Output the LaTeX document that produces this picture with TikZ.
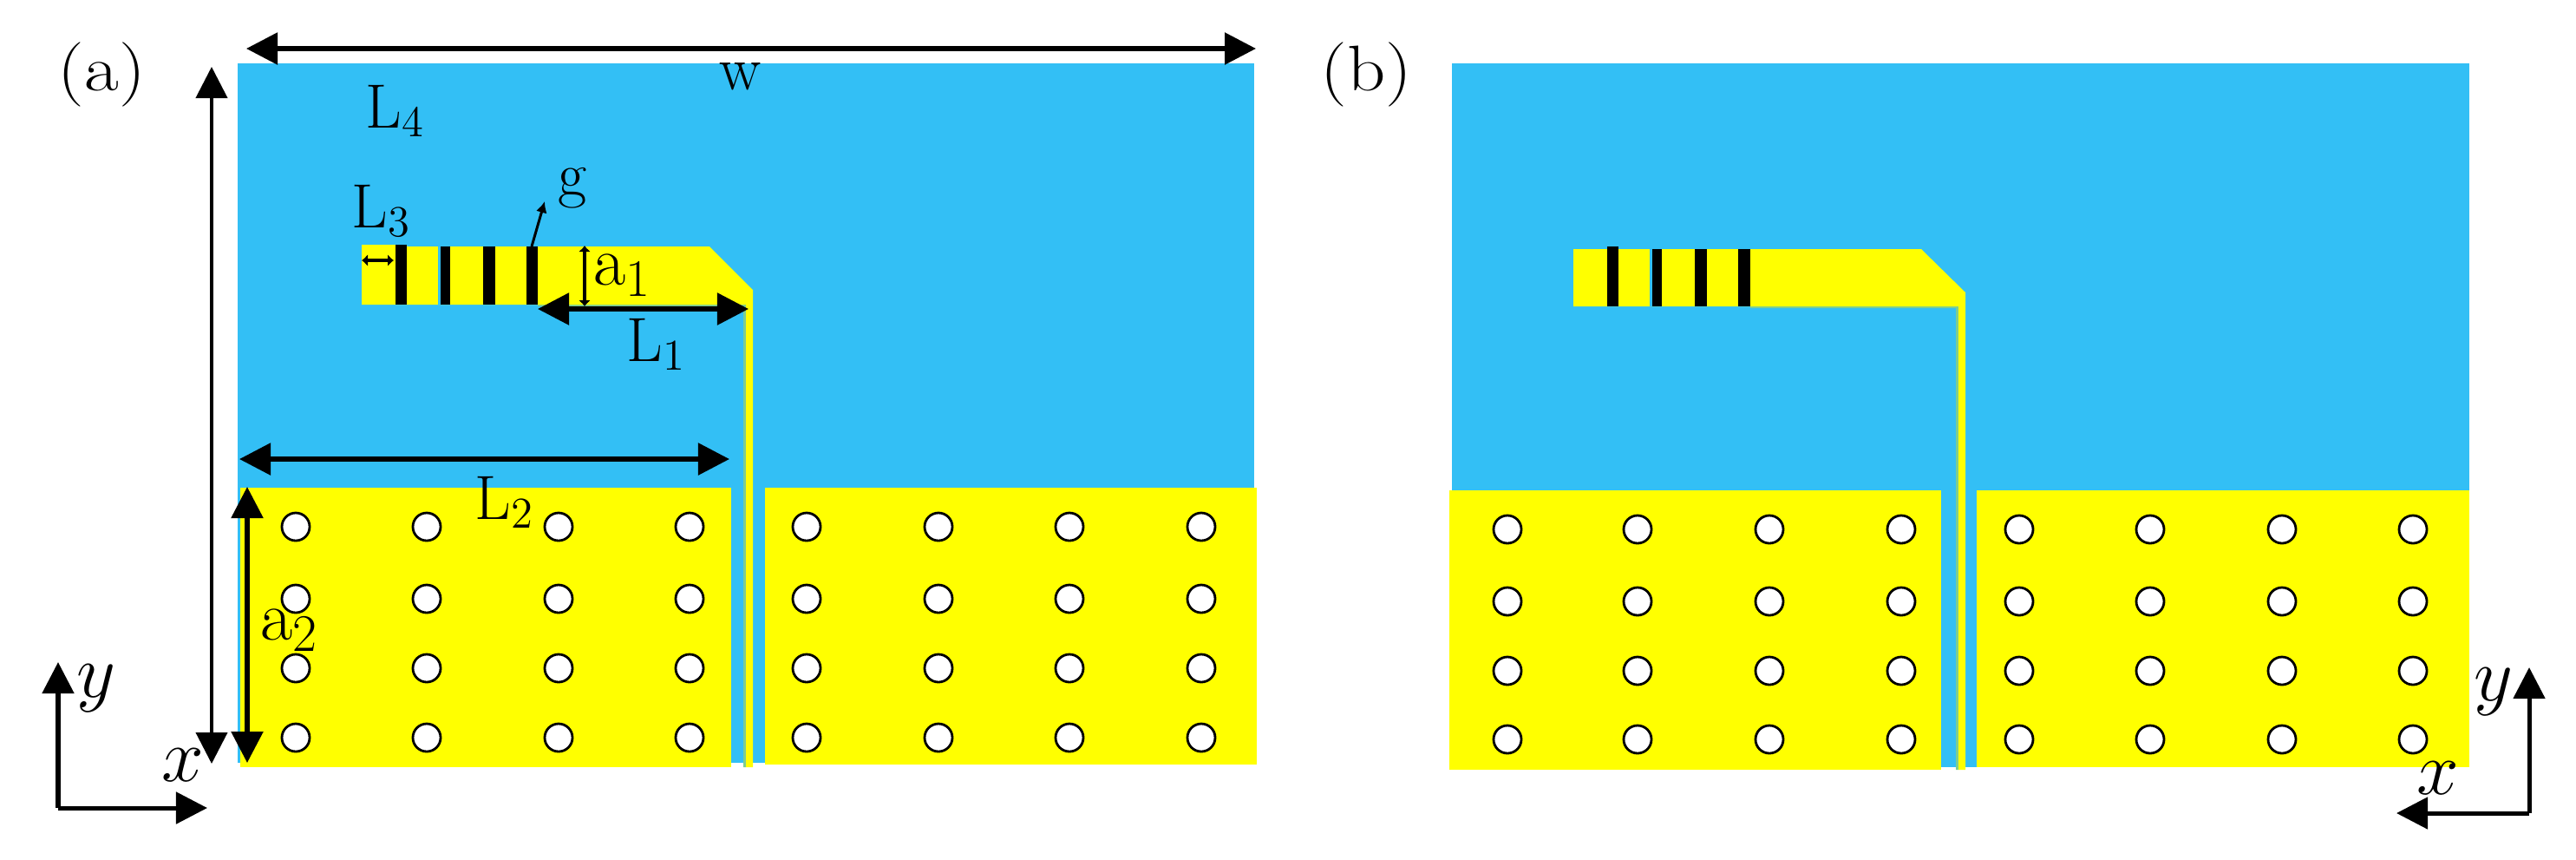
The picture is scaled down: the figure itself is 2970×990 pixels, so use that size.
\documentclass[tikz,border=0pt]{standalone}
\usepackage{fontspec}
\usetikzlibrary{arrows.meta}
\definecolor{sky}{RGB}{51,191,245}
\definecolor{lemon}{RGB}{255,255,0}
\definecolor{edgegreen}{RGB}{125,205,145}
\newcommand{\tagtext}[1]{\scalebox{1.2}[1.03]{#1}}
\tikzset{
    sub/.style={fill=sky},
    metal/.style={fill=lemon},
    bar/.style={fill=black},
    via/.style={circle,draw=black,fill=white,line width=0.028cm,minimum size=0.32cm,inner sep=0},
    dimbig/.style={{Triangle[length=0.36cm,width=0.36cm]}-{Triangle[length=0.36cm,width=0.36cm]},line width=0.055cm},
    dimtiny/.style={{Latex[length=0.07cm,width=0.14cm]}-{Latex[length=0.07cm,width=0.14cm]},line width=0.035cm},
    axisline/.style={-{Triangle[length=0.36cm,width=0.36cm]},line width=0.05cm},
    lab/.style={anchor=base west,inner sep=0,font=\fontsize{20.5}{24}\selectfont},
    labbig/.style={lab,font=\fontsize{23}{27}\selectfont}
}

\begin{document}
\begin{tikzpicture}[x=0.01cm,y=-0.01cm]
    \useasboundingbox (0,0) rectangle (2970,990);
    % panel a
    \fill[sub] (274,73) rectangle (1446,879);
    \fill[metal] (277,562) rectangle (843,884);
    \fill[metal] (882,562) rectangle (1449,881);
    \fill[edgegreen] (620,351) -- (620,353) -- (857,353) -- (857,884) -- (860,884) -- (860,351) -- cycle;
    \fill[metal] (417,282) -- (469,282) -- (469,284) -- (818,284) -- (868,334) -- (868,884) -- (860,884) -- (860,351) -- (417,351) -- cycle;
    \fill[sky] (505,284) rectangle (508,351);
    \foreach \l/\r/\t in {456/469/282,508/519/284,557/571/284,607/620/284}
        \fill[bar] (\l,\t) rectangle (\r,351);
    \foreach \x in {341,492,644,795,930,1082,1233,1385}
    \foreach \y in {607,690,770,850}
        \node[via] (va\x\y) at (\x,\y) {};
    % panel b
    \fill[sub] (1674,73) rectangle (2847,884);
    \fill[metal] (1671,565) rectangle (2238,887);
    \fill[metal] (2279,565) rectangle (2847,884);
    \fill[edgegreen] (2018,353) -- (2018,355) -- (2255,355) -- (2255,887) -- (2258,887) -- (2258,353) -- cycle;
    \fill[metal] (1814,287) -- (2215,287) -- (2266,337) -- (2266,887) -- (2258,887) -- (2258,353) -- (1814,353) -- cycle;
    \fill[sky] (1902,287) rectangle (1905,353);
    \foreach \l/\r/\t in {1853/1866/284,1905/1916/287,1954/1968/287,2004/2018/287}
        \fill[bar] (\l,\t) rectangle (\r,353);
    \foreach \x in {1738,1888,2040,2192,2328,2479,2631,2782}
    \foreach \y in {610,693,773,852}
        \node[via] (vb\x\y) at (\x,\y) {};
    % dimensions of panel a
    \coordinate (wL) at (284,56);
    \coordinate (wR) at (1448,56);
    \coordinate (hT) at (244,77);
    \coordinate (hB) at (244,880);
    \coordinate (LoneL) at (620,356);
    \coordinate (LoneR) at (863,356);
    \coordinate (LtwoL) at (276,529);
    \coordinate (LtwoR) at (841,529);
    \coordinate (atwoT) at (285,561);
    \coordinate (atwoB) at (285,879);
    \coordinate (LthreeL) at (417,300);
    \coordinate (LthreeR) at (454,300);
    \coordinate (aoneT) at (674,283);
    \coordinate (aoneB) at (674,353);
    \coordinate (gA) at (613,284);
    \coordinate (gB) at (628,232);
    \draw[dimbig] (wL) -- (wR);
    \draw[dimbig,line width=0.04cm] (hT) -- (hB);
    \draw[dimbig] (LoneL) -- (LoneR);
    \draw[dimbig] (LtwoL) -- (LtwoR);
    \draw[dimbig] (atwoT) -- (atwoB);
    \draw[dimtiny] (LthreeL) -- (LthreeR);
    \draw[dimtiny] (aoneT) -- (aoneB);
    \draw[-{Latex[length=0.13cm,width=0.13cm]},line width=0.03cm] (gA) -- (gB);
    % axes
    \coordinate (oa) at (67,931);
    \coordinate (oaX) at (239,931);
    \coordinate (oaY) at (67,763);
    \draw[axisline] (oa) -- (oaX);
    \draw[axisline] (oa) -- (oaY);
    \coordinate (ob) at (2916,937);
    \coordinate (obX) at (2763,937);
    \coordinate (obY) at (2916,769);
    \draw[axisline] (ob) -- (obX);
    \draw[axisline] (ob) -- (obY);
    % labels
    \node[lab] (tagA) at (66,104) {\tagtext{(a)}};
    \node[lab] (tagB) at (1522,104) {\tagtext{(b)}};
    \node[lab] (labW) at (829,103) {w};
    \node[lab] (labLfour) at (421,147) {L$_4$};
    \node[lab] (labLthree) at (405,262) {L$_3$};
    \node[lab] (labLone) at (722,416) {L$_1$};
    \node[lab] (labLtwo) at (547,598) {L$_2$};
    \node[lab] (labG) at (643,225) {g};
    \node[labbig] (labAone) at (684,328) {a$_1$};
    \node[labbig] (labAtwo) at (300,737) {a$_2$};
    \node[labbig] (labXa) at (186,900) {$x$};
    \node[labbig] (labYa) at (88,803) {$y$};
    \node[labbig] (labXb) at (2786,915) {$x$};
    \node[labbig] (labYb) at (2852,807) {$y$};
\end{tikzpicture}
\end{document}
